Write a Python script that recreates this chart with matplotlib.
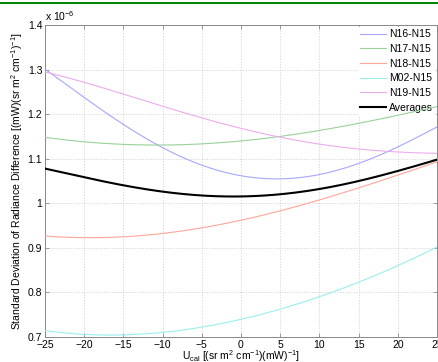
import numpy as np
import matplotlib
matplotlib.use("Agg")
import matplotlib.pyplot as plt
from matplotlib.patches import Rectangle

# Daten (Einheiten von 1e-6)
u = [-25, -20, -15, -10, -5, 0, 5, 10, 15, 20, 25]
n16 = [1.300, 1.240, 1.175, 1.125, 1.085, 1.062, 1.055, 1.065, 1.090, 1.125, 1.172]
n17 = [1.148, 1.138, 1.132, 1.131, 1.133, 1.140, 1.150, 1.163, 1.180, 1.197, 1.217]
n18 = [0.927, 0.922, 0.925, 0.933, 0.945, 0.962, 0.982, 1.008, 1.035, 1.063, 1.093]
m02 = [0.714, 0.707, 0.704, 0.710, 0.722, 0.740, 0.763, 0.790, 0.823, 0.860, 0.902]
n19 = [1.295, 1.270, 1.245, 1.220, 1.190, 1.168, 1.148, 1.133, 1.122, 1.115, 1.112]
avg = [1.078, 1.058, 1.040, 1.027, 1.018, 1.014, 1.020, 1.033, 1.050, 1.072, 1.098]

series = [("N16-N15", n16, "#a6a6ff"),
          ("N17-N15", n17, "#99d199"),
          ("N18-N15", n18, "#ffa699"),
          ("M02-N15", m02, "#99eeee"),
          ("N19-N15", n19, "#eeaaee")]

plt.rcParams['font.family'] = ['Liberation Sans', 'DejaVu Sans']
plt.rcParams['mathtext.fontset'] = 'custom'
plt.rcParams['mathtext.rm'] = 'Liberation Sans'

fig = plt.figure(figsize=(4.39, 3.62), dpi=100)
ax = fig.add_axes([45/439, 25/362, 392/439, 312/362])

uu = np.linspace(-25, 25, 200)
for name, vals, col in series:
    p = np.polyfit(u, vals, 4)
    ax.plot(uu, np.polyval(p, uu), color=col, lw=0.8, label=name, zorder=3)
p = np.polyfit(u, avg, 4)
ax.plot(uu, np.polyval(p, uu), color="black", lw=1.5, label="Averages", zorder=3)

ax.set_xlim(-25, 25)
ax.set_ylim(0.7, 1.4)
ax.set_xticks(np.arange(-25, 26, 5))
ax.set_yticks([0.7, 0.8, 0.9, 1.0, 1.1, 1.2, 1.3, 1.4])
ax.set_yticklabels(["0.7", "0.8", "0.9", "1", "1.1", "1.2", "1.3", "1.4"])
ax.tick_params(direction="in", top=True, right=True, labelsize=7.5,
               length=3, width=0.5, color="#777777", pad=2)
ax.set_axisbelow(True)
ax.grid(True, ls=(0, (2, 2)), lw=0.5, color="#cccccc")
for s in ax.spines.values():
    s.set_color("#888888")
    s.set_linewidth(0.7)

ax.set_ylabel(r"Standard Deviation of Radiance Difference [(mW)(sr m$^2$ cm$^{-1}$)$^{-1}$]",
              fontsize=7.5, labelpad=2)
ax.set_xlabel(r"U$_{\rm cal}$ [(sr m$^2$ cm$^{-1}$)(mW)$^{-1}$]", fontsize=7.5, labelpad=-1)
ax.text(0.0, 1.005, r"x 10$^{-6}$", transform=ax.transAxes, fontsize=7.5,
        ha="left", va="bottom")

leg = ax.legend(loc="upper right", fontsize=7.5, frameon=True, fancybox=False,
                handlelength=2.5, borderaxespad=0.2, labelspacing=0.45,
                handletextpad=0.3, borderpad=0.2)
leg.get_frame().set_edgecolor("white")
leg.get_frame().set_facecolor("white")
leg.get_frame().set_alpha(1.0)
leg.set_zorder(2)

# gruener Balken oben
fig.add_artist(Rectangle((0, 1 - 4/362), 1, 2.5/362, transform=fig.transFigure,
                         color="#008800", lw=0))

fig.savefig("out.png", dpi=100)
